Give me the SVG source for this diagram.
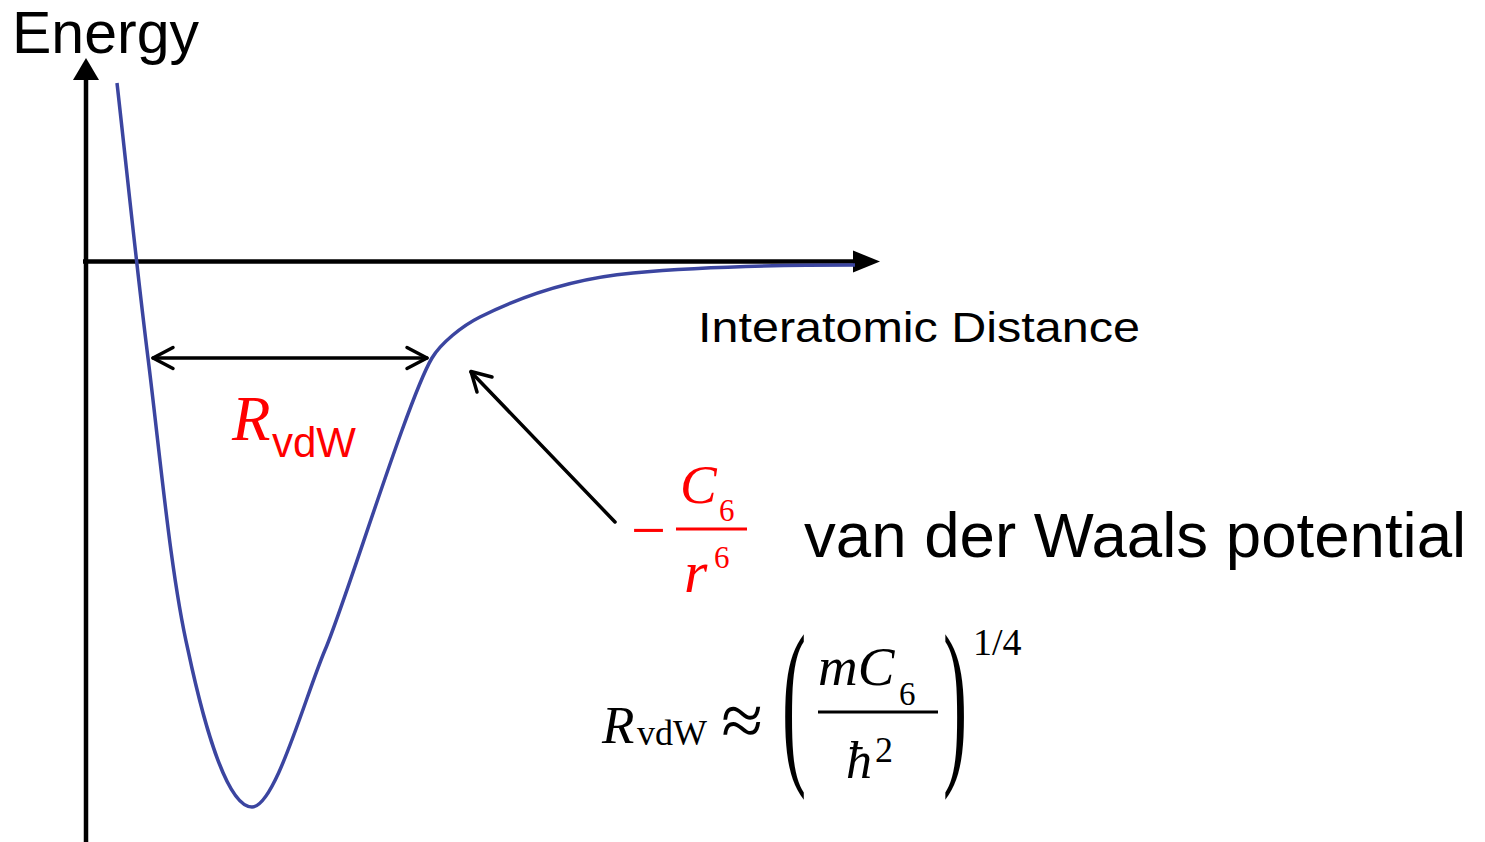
<svg xmlns="http://www.w3.org/2000/svg" width="1485" height="842" viewBox="0 0 1485 842">
<style>
.sans{font-family:"Liberation Sans",Arial,sans-serif}
.serif{font-family:"Liberation Serif","Times New Roman",serif}
.it{font-style:italic}
.red{fill:#ff0000}
.blk{fill:#000}
.ax{stroke:#000;stroke-width:4.5;fill:none}
.arr{stroke:#000;stroke-width:3.5;fill:none;stroke-linecap:round;stroke-linejoin:round}
</style>
<rect width="1485" height="842" fill="#fff"/>
<g id="axes">
<line class="ax" x1="86" y1="842" x2="86" y2="76"/>
<polygon points="86,58 73,80 99,80" fill="#000"/>
<line class="ax" x1="83" y1="261.5" x2="856" y2="261.5"/>
<polygon points="880,261.5 853,250.5 853,272.5" fill="#000"/>
</g>
<g id="curve">
<path d="M117,83 C127.3,174.7 136.2,263.5 148,358 C159.8,452.5 170.7,575.2 188,650 C205,730 228,807 252,807 C275,807 304,700 325,650 C345,604 408,398 432,358 C441,343 462,326 480,317 C520,297 573,278.4 633,273 C693,267.6 780,265 855,265" fill="none" stroke="#3b45a0" stroke-width="3.5"/>
</g>
<g id="connectors">
<line class="arr" x1="153" y1="358" x2="427" y2="358"/>
<polyline class="arr" points="173,347.5 153,358 173,368.5"/>
<polyline class="arr" points="407,347.5 427,358 407,368.5"/>
<line class="arr" x1="615" y1="522" x2="471" y2="372"/>
<polyline class="arr" points="492,377 471,371.5 477,392"/>
</g>
<g id="energy-label">
<text class="sans blk" x="12" y="53" font-size="59">Energy</text>
</g>
<g id="distance-label">
<text class="sans blk" x="698" y="342" font-size="42" textLength="442" lengthAdjust="spacingAndGlyphs">Interatomic Distance</text>
</g>
<g id="rvdw-label">
<text class="serif it red" x="232" y="440" font-size="63">R</text>
<text class="sans red" x="272" y="457" font-size="42">vdW</text>
</g>
<g id="c6-fraction">
<text class="serif red" x="631" y="551" font-size="62">−</text>
<line x1="676" y1="529" x2="747" y2="529" stroke="#ff0000" stroke-width="3"/>
<text class="serif it red" x="680" y="503" font-size="55">C</text>
<text class="serif red" x="719" y="521" font-size="31">6</text>
<text class="serif it red" x="684" y="592" font-size="60">r</text>
<text class="serif red" x="714" y="568" font-size="31">6</text>
</g>
<g id="vdw-potential-label">
<text class="sans blk" x="804" y="557" font-size="63.6">van der Waals potential</text>
</g>
<g id="rvdw-formula">
<text class="serif it blk" x="602" y="743" font-size="53">R</text>
<text class="serif blk" x="637" y="745" font-size="36">vdW</text>
<text class="serif blk" x="742" y="746" font-size="76" text-anchor="middle">≈</text>
<text class="serif blk" transform="translate(782,761) scale(1.45,3.63)" font-size="50">(</text>
<text class="serif it blk" x="818" y="685" font-size="55">mC</text>
<text class="serif blk" x="899" y="705" font-size="33">6</text>
<line x1="818" y1="712" x2="938" y2="712" stroke="#000" stroke-width="3"/>
<text class="serif it blk" x="846" y="778" font-size="52">ħ</text>
<text class="serif blk" x="875" y="762" font-size="36">2</text>
<text class="serif blk" transform="translate(943,761) scale(1.45,3.63)" font-size="50">)</text>
<text class="serif blk" x="973" y="655" font-size="38">1/4</text>
</g>
</svg>
